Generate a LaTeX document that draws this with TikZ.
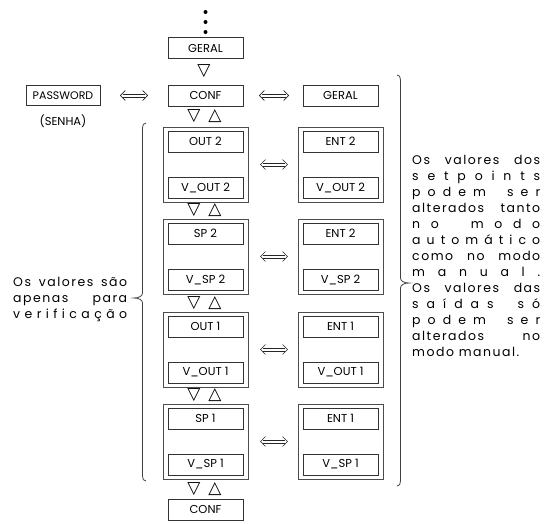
\documentclass[tikz,border=0pt]{standalone}
\usepackage{fontspec}
\setmainfont{Poppins}
\newfontfamily\symf{DejaVu Sans}
\newfontfamily\parfont[LetterSpace=12]{Poppins}
\usetikzlibrary{arrows.meta}
\newcommand\rline[1]{\makebox[128pt][s]{#1}}
\newcommand\lline[1]{\makebox[114pt][s]{#1}}
\newcommand\dblarr[2]{%
  \draw[arr] ([xshift=5pt,yshift=5pt]#1) -- (#1) -- ([xshift=5pt,yshift=-5pt]#1);
  \draw[arr] ([xshift=-5pt,yshift=5pt]#2) -- (#2) -- ([xshift=-5pt,yshift=-5pt]#2);
  \draw[arr] ([xshift=2.2pt,yshift=1.6pt]#1) -- ([xshift=-2.2pt,yshift=1.6pt]#2);
  \draw[arr] ([xshift=2.2pt,yshift=-1.6pt]#1) -- ([xshift=-2.2pt,yshift=-1.6pt]#2);
}
\begin{document}
\begin{tikzpicture}[x=1pt,y=-1pt,
 boxin/.style={draw=black!80, line width=0.7pt, minimum width=75pt, minimum height=21pt, inner sep=0pt, font=\fontsize{11.5}{14}\selectfont},
 boxout/.style={draw=black!70, line width=0.9pt, minimum width=85pt, minimum height=75pt, inner sep=0pt},
 tri/.style={font=\symf\fontsize{17}{17}\selectfont, inner sep=0pt},
 arr/.style={draw=black!85, line width=0.6pt, line join=miter},
 txt/.style={anchor=base west, inner sep=0pt, font=\parfont\fontsize{12.5}{14}\selectfont},
 brace/.style={draw=black!75, line width=0.8pt},
]
\useasboundingbox (0,0) rectangle (544,523);
% dots
\fill (205.5,12) circle (2pt);
\fill (205.5,22) circle (2pt);
\fill (205.5,32) circle (2pt);
% top
\node[boxin] (geral0) at (205.5,48) {GERAL};
\node[tri] (t0) at (204,71.5) {▽};
\node[boxin] (conf0) at (205.5,95.5) {CONF};
\node[boxin, minimum width=74pt, minimum height=20pt, font=\fontsize{11}{13}\selectfont] (pw) at (63,95.5) {PASSWORD};
\node[font=\fontsize{11.5}{14}\selectfont, inner sep=0pt] (senha) at (63,121) {(SENHA)};
\node[boxin] (geral1) at (340.5,95.5) {GERAL};
\coordinate (h0a) at ([xshift=20pt]pw.east);
\coordinate (h0b) at ([xshift=-20pt]conf0.west);
\dblarr{h0a}{h0b}
\coordinate (h1a) at ([xshift=16pt]conf0.east);
\coordinate (h1b) at ([xshift=-14pt]geral1.west);
\dblarr{h1a}{h1b}
\node[tri] (a0) at (194,116.5) {▽};
\node[tri] (b0) at (215,116.5) {△};
% block 1
\node[boxout] (o1L) at (205.5,164.5) {};
\node[boxin] (i1La) at (205.5,141.5) {OUT 2};
\node[boxin] (i1Lb) at (205.5,187.5) {V\_OUT 2};
\node[boxout] (o1R) at (340.5,164.5) {};
\node[boxin] (i1Ra) at (340.5,141.5) {ENT 2};
\node[boxin] (i1Rb) at (340.5,187.5) {V\_OUT 2};
\coordinate (c1a) at ([xshift=12pt]o1L.east);
\coordinate (c1b) at ([xshift=-10pt]o1R.west);
\dblarr{c1a}{c1b}
\node[tri] (a1) at (194,210.5) {▽};
\node[tri] (b1) at (215,210.5) {△};
% block 2
\node[boxout] (o2L) at (205.5,256.5) {};
\node[boxin] (i2La) at (205.5,233.5) {SP 2};
\node[boxin] (i2Lb) at (205.5,279.5) {V\_SP 2};
\node[boxout] (o2R) at (340.5,256.5) {};
\node[boxin] (i2Ra) at (340.5,233.5) {ENT 2};
\node[boxin] (i2Rb) at (340.5,279.5) {V\_SP 2};
\coordinate (c2a) at ([xshift=12pt]o2L.east);
\coordinate (c2b) at ([xshift=-10pt]o2R.west);
\dblarr{c2a}{c2b}
\node[tri] (a2) at (194,303) {▽};
\node[tri] (b2) at (215,303) {△};
% block 3
\node[boxout] (o3L) at (205.5,349.5) {};
\node[boxin] (i3La) at (205.5,326.5) {OUT 1};
\node[boxin] (i3Lb) at (205.5,372.5) {V\_OUT 1};
\node[boxout] (o3R) at (340.5,349.5) {};
\node[boxin] (i3Ra) at (340.5,326.5) {ENT 1};
\node[boxin] (i3Rb) at (340.5,372.5) {V\_OUT 1};
\coordinate (c3a) at ([xshift=12pt]o3L.east);
\coordinate (c3b) at ([xshift=-10pt]o3R.west);
\dblarr{c3a}{c3b}
\node[tri] (a3) at (194,395.5) {▽};
\node[tri] (b3) at (215,395.5) {△};
% block 4
\node[boxout] (o4L) at (205.5,441.5) {};
\node[boxin] (i4La) at (205.5,418.5) {SP 1};
\node[boxin] (i4Lb) at (205.5,464.5) {V\_SP 1};
\node[boxout] (o4R) at (340.5,441.5) {};
\node[boxin] (i4Ra) at (340.5,418.5) {ENT 1};
\node[boxin] (i4Rb) at (340.5,464.5) {V\_SP 1};
\coordinate (c4a) at ([xshift=12pt]o4L.east);
\coordinate (c4b) at ([xshift=-10pt]o4R.west);
\dblarr{c4a}{c4b}
\node[tri] (a4) at (194,489) {▽};
\node[tri] (b4) at (215,489) {△};
\node[boxin] (conf1) at (205.5,509.5) {CONF};
% braces
\draw[brace] (397,75) .. controls (399.5,75) and (400.5,77) .. (400.5,80) -- (400.5,278)
  .. controls (400.5,281) and (404,283) .. (409,283)
  .. controls (404,283) and (400.5,285) .. (400.5,288) -- (400.5,481)
  .. controls (400.5,484) and (399.5,486) .. (397,486);
\draw[brace] (146,123) .. controls (143.5,123) and (142.5,125) .. (142.5,128) -- (142.5,293)
  .. controls (142.5,296) and (139,298) .. (134,298)
  .. controls (139,298) and (142.5,300) .. (142.5,303) -- (142.5,476)
  .. controls (142.5,479) and (143.5,481) .. (146,481);
% left text
\node[txt] (l1) at (13,286) {\lline{Os valores são}};
\node[txt] (l2) at (13,302) {\lline{apenas para}};
\node[txt] (l3) at (13,318) {\lline{v\hfil e\hfil r\hfil i\hfil f\hfil i\hfil c\hfil a\hfil ç\hfil ã\hfil o}};
% right text
\node[txt] (r1) at (412,164) {\rline{Os valores dos}};
\node[txt] (r2) at (412,180) {\rline{s\hfil e\hfil t\hfil p\hfil o\hfil i\hfil n\hfil t\hfil s}};
\node[txt] (r3) at (412,196) {\rline{p\hfil o\hfil d\hfil e\hfil m\hfil\hfil\hfil s\hfil e\hfil r}};
\node[txt] (r4) at (412,212) {\rline{alterados tanto}};
\node[txt] (r5) at (412,228) {\rline{n\hfil o\hfil\hfil\hfil m\hfil o\hfil d\hfil o}};
\node[txt] (r6) at (412,244) {\rline{a\hfil u\hfil t\hfil o\hfil m\hfil á\hfil t\hfil i\hfil c\hfil o}};
\node[txt] (r7) at (412,260) {\rline{como no modo}};
\node[txt] (r8) at (412,276) {\rline{m\hfil a\hfil n\hfil u\hfil a\hfil l\hfil .}};
\node[txt] (r9) at (412,292) {\rline{Os valores das}};
\node[txt] (r10) at (412,308) {\rline{s\hfil a\hfil í\hfil d\hfil a\hfil s\hfil\hfil\hfil s\hfil ó}};
\node[txt] (r11) at (412,324) {\rline{p\hfil o\hfil d\hfil e\hfil m\hfil\hfil\hfil s\hfil e\hfil r}};
\node[txt] (r12) at (412,340) {\rline{alterados no}};
\node[txt] (r13) at (412,356) {modo manual.};
\end{tikzpicture}
\end{document}
